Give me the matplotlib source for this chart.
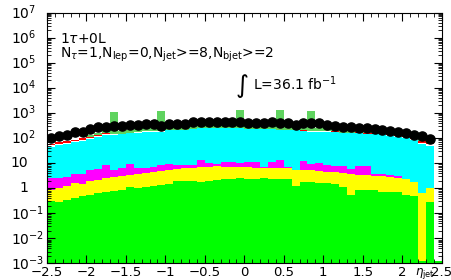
import numpy as np
import matplotlib
matplotlib.use("Agg")
import matplotlib.pyplot as plt
import matplotlib.transforms as mtransforms
from matplotlib.ticker import LogLocator, FixedLocator, MultipleLocator, NullFormatter, FuncFormatter

plt.rcParams['font.family'] = ['DejaVu Sans']
plt.rcParams['mathtext.fontset'] = 'dejavusans'

# 1. Binning: 50 bins of eta_jet
edges = np.linspace(-2.5, 2.5, 51)
centers = 0.5 * (edges[:-1] + edges[1:])

# 2. Stack components (per bin, bottom to top)
green = [0.32, 0.28, 0.34, 0.42, 0.47, 0.55, 0.66, 0.72, 0.76, 0.82,
         1.09, 1.0, 1.12, 1.2, 1.33, 1.45, 1.98, 1.98, 1.9, 1.83,
         1.95, 2.2, 2.27, 2.35, 2.45, 2.35, 2.35, 2.45, 2.3, 2.35,
         2.3, 1.26, 1.73, 1.75, 1.6, 1.58, 1.45, 1.15, 0.54, 0.85,
         0.88, 0.85, 0.73, 0.7, 0.72, 0.55, 0.5, 0.0013, 0.29, 0.0013]
yellow = [0.53, 0.75, 0.89, 1.2, 1.01, 1.4, 1.48, 1.85, 2.06, 2.26,
          2.29, 2.7, 2.94, 3.25, 3.54, 3.9, 3.88, 4.16, 4.53, 4.9,
          5.1, 5.18, 4.59, 4.51, 4.28, 4.38, 4.08, 3.98, 4.13, 3.9,
          3.95, 4.09, 3.62, 3.35, 3.27, 2.87, 2.8, 2.73, 3.0, 2.53,
          2.5, 2.23, 2.21, 2.12, 1.85, 1.79, 1.33, 0.63, 0.71, 0.0]
magenta = [1.64, 1.54, 1.66, 1.98, 2.12, 3.4, 3.56, 5.9, 2.53, 3.17,
           5.89, 2.55, 2.37, 2.28, 3.6, 3.5, 2.61, 2.33, 2.04, 6.67,
           3.35, 1.89, 4.64, 4.64, 3.17, 4.77, 5.07, 0.81, 5.07, 7.15,
           0.99, 0.05, 6.85, 3.9, 5.53, 4.02, 3.69, 4.06, 2.32, 4.35,
           4.35, 0.52, 0.66, 0.56, 0.51, 0.0, 0.0, 0.0, 0.0, 0.0]
cyan = [42.5, 50.4, 55.1, 64.4, 73.4, 84.6, 102.3, 124.5, 130.6, 135.8,
        145.7, 157.8, 173.6, 173.3, 171.5, 201.2, 201.5, 201.5, 222.5, 232.6,
        235.6, 236.7, 234.5, 234.5, 236.1, 219.5, 219.5, 223.8, 219.5, 196.6,
        202.8, 204.7, 179.8, 171.0, 169.6, 171.5, 162.1, 147.1, 149.1, 147.3,
        134.3, 138.4, 138.4, 121.6, 110.9, 101.7, 78.2, 57.4, 49.0, 0.0]
white = [6, 7, 7, 8, 9, 10, 12, 14, 4, 4,
         4, 4, 4, 4, 4, 4, 4, 4, 4, 4,
         4, 4, 4, 4, 4, 4, 4, 4, 4, 4,
         4, 4, 4, 4, 4, 4, 12, 4, 4, 8,
         8, 9, 10, 10, 10, 10, 9, 8, 7, 0]
red = [7, 8, 8, 9, 10, 12, 14, 16, 4, 4,
       4, 4, 4, 4, 4, 4, 4, 4, 4, 4,
       4, 4, 4, 4, 4, 4, 4, 4, 4, 4,
       4, 4, 4, 4, 4, 4, 4, 4, 4, 8,
       8, 9, 10, 10, 10, 10, 9, 8, 7, 0]
lightgreen = [1, 1, 2, 2, 3, 20, 25, 30, 950, 45,
              50, 55, 60, 60, 1000, 65, 65, 65, 70, 75,
              75, 75, 75, 75, 1050, 70, 70, 70, 70, 1080,
              65, 65, 60, 970, 55, 55, 50, 45, 45, 45,
              40, 35, 35, 30, 28, 25, 22, 15, 12, 0]

# 3. Data points
data = [98, 125, 133, 170, 180, 231, 270, 285, 304, 312,
        333, 333, 348, 348, 312, 365, 365, 365, 451, 451,
        438, 438, 451, 438, 426, 400, 400, 382, 419, 389,
        389, 333, 389, 389, 389, 333, 312, 285, 270, 246,
        246, 231, 210, 197, 180, 155, 133, 121, 90, 0]

layers = [green, yellow, magenta, cyan, white, red, lightgreen]
colors = ['#00ff00', '#ffff00', '#ff00ff', '#00ffff', '#ffffff', '#ff0000', '#5fd35f']

decades = [-3, -2, -1, 0, 1, 2, 3, 4, 5, 6, 7]
ylabels = ['$10^{-3}$', '$10^{-2}$', '$10^{-1}$', '1', '10',
           '$10^{2}$', '$10^{3}$', '$10^{4}$', '$10^{5}$', '$10^{6}$', '$10^{7}$']

fig = plt.figure(figsize=(4.52, 2.8), dpi=100)
ax = fig.add_axes([0.104, 0.059, 0.873, 0.896])

# 4. Stacked histogram
bottom = np.full(50, 1e-5)
for vals, col in zip(layers, colors):
    top = bottom + np.array(vals)
    ax.stairs(top, edges, baseline=bottom, fill=True, color=col, lw=0)
    bottom = top

d = np.array(data, dtype=float)
mask = d > 0
ax.plot(centers[mask], d[mask], 'o', color='black', ms=6.6, zorder=5)

ax.set_yscale('log')
ax.set_xlim(-2.5, 2.5)
ax.set_ylim(1e-3, 1e7)

# 5. Axes styling (ROOT-like)
ax.yaxis.set_major_locator(FixedLocator([10.0 ** e for e in decades]))
ax.yaxis.set_major_formatter(NullFormatter())
ax.yaxis.set_minor_locator(LogLocator(base=10, subs=np.arange(2, 10), numticks=20))
ax.yaxis.set_minor_formatter(NullFormatter())
ax.xaxis.set_major_locator(MultipleLocator(0.5))
ax.xaxis.set_minor_locator(MultipleLocator(0.1))
ax.xaxis.set_major_formatter(FuncFormatter(lambda v, p: f'{v:g}'.replace('-', '\u2212')))
ax.tick_params(which='both', direction='in', top=True, right=True, labelsize=9.5)
ax.tick_params(axis='x', pad=1.5)
ax.tick_params(which='major', length=6, width=0.8)
ax.tick_params(which='minor', length=3, width=0.6)
for s in ax.spines.values():
    s.set_linewidth(0.8)
    s.set_zorder(10)

# y labels: "10" base aligned like ROOT
ytrans = mtransforms.blended_transform_factory(ax.transAxes, ax.transData)
for e, lab in zip(decades, ylabels):
    if e in (0, 1):
        ax.text(-0.048, 10.0 ** e, lab, transform=ytrans, ha='right', va='center', fontsize=10)
    else:
        ax.text(-0.091, 10.0 ** e, lab, transform=ytrans, ha='left', va='center', fontsize=10)

# 6. Labels
fig.text(0.133, 0.846, r'1$\tau$+0L', fontsize=10)
fig.text(0.133, 0.793, r'N$_{\tau}$=1,N$_{\mathrm{lep}}$=0,N$_{\mathrm{jet}}$>=8,N$_{\mathrm{bjet}}$>=2',
         fontsize=10)
fig.text(0.535, 0.693, '\u222b', fontsize=18, ha='center', va='center')
fig.text(0.56, 0.677, r'L=36.1 fb$^{-1}$', fontsize=10)
fig.text(0.962, 0.018, r'$\eta_{\mathrm{jet}}$', fontsize=8.5, ha='right')

plt.savefig('out.png', dpi=100)
plt.close()
